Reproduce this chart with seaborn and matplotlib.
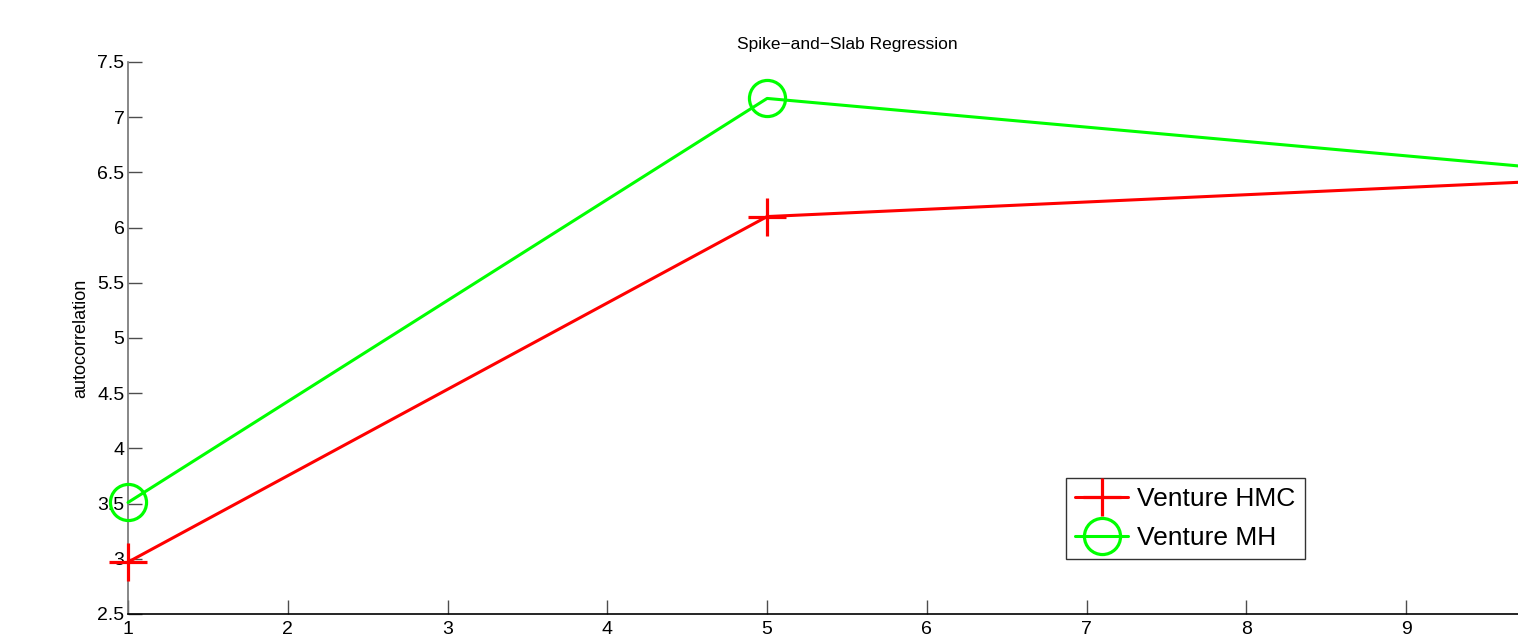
import numpy as np
import pandas as pd
import seaborn as sns
import matplotlib.pyplot as plt

# values
iterations = [1, 5, 10]
hmc_autocorr = [2.97, 6.10, 6.43]
mh_autocorr = [3.51, 7.17, 6.52]
series_names = ['Venture HMC', 'Venture MH']
series_colors = ['#ff0000', '#00ff00']
series_markers = ['+', 'o']
y_ticks = [2.5, 3, 3.5, 4, 4.5, 5, 5.5, 6, 6.5, 7, 7.5]
x_ticks = list(range(1, 10))

sns.set_style('white')
plt.rcParams['font.family'] = ['Liberation Sans', 'DejaVu Sans']

fig = plt.figure(figsize=(15.18, 6.43), dpi=100)
ax = fig.add_axes([128 / 1518, 29 / 643, 1438 / 1518, 552 / 643])

# one call per series, seaborn won't mix '+' and 'o' in one style mapping
for name, vals, col, mk in zip(series_names, [hmc_autocorr, mh_autocorr],
                               series_colors, series_markers):
    sns.lineplot(x=iterations, y=vals, color=col, marker=mk, label=name,
                 legend=False, ax=ax)

for line, col, ms in zip(ax.lines, series_colors, [27, 26]):
    line.set_linewidth(2.2)
    line.set_markersize(ms)
    line.set_markeredgewidth(2.3)
    line.set_markeredgecolor(col)
    line.set_markerfacecolor('none')
    line.set_clip_on(False)
    line.set_zorder(5)

ax.set_xlim(1, 10)
ax.set_ylim(2.5, 7.5)
ax.set_xticks(x_ticks)
ax.set_yticks(y_ticks)
ax.set_yticklabels([f'{v:g}' for v in y_ticks])
ax.set_ylabel('autocorrelation', fontsize=13, color='black', labelpad=6)
ax.set_title('Spike\u2212and\u2212Slab Regression', fontsize=12.5, color='black', pad=9)

sns.despine(ax=ax, top=True, right=True)
ax.spines['left'].set_color('0.45')
ax.spines['bottom'].set_color('black')
ax.spines['left'].set_linewidth(1.2)
ax.spines['bottom'].set_linewidth(1.2)
ax.tick_params(axis='both', direction='in', length=10, width=1,
               colors='0.3', labelcolor='black', labelsize=14,
               left=True, bottom=True)
ax.tick_params(axis='y', pad=2.5)
ax.tick_params(axis='x', pad=5)

leg = ax.legend(handles=ax.lines, labels=series_names, loc='lower left',
                bbox_to_anchor=(1066 / 1518, 84 / 643), bbox_transform=fig.transFigure,
                borderaxespad=0, fontsize=19, frameon=True, fancybox=False,
                handlelength=2.0, handletextpad=0.35, labelspacing=0.55,
                borderpad=0.35, numpoints=1)
leg.get_frame().set_edgecolor('black')
leg.get_frame().set_linewidth(1.0)
for t in leg.get_texts():
    t.set_color('black')

fig.savefig('out.png', dpi=100)
